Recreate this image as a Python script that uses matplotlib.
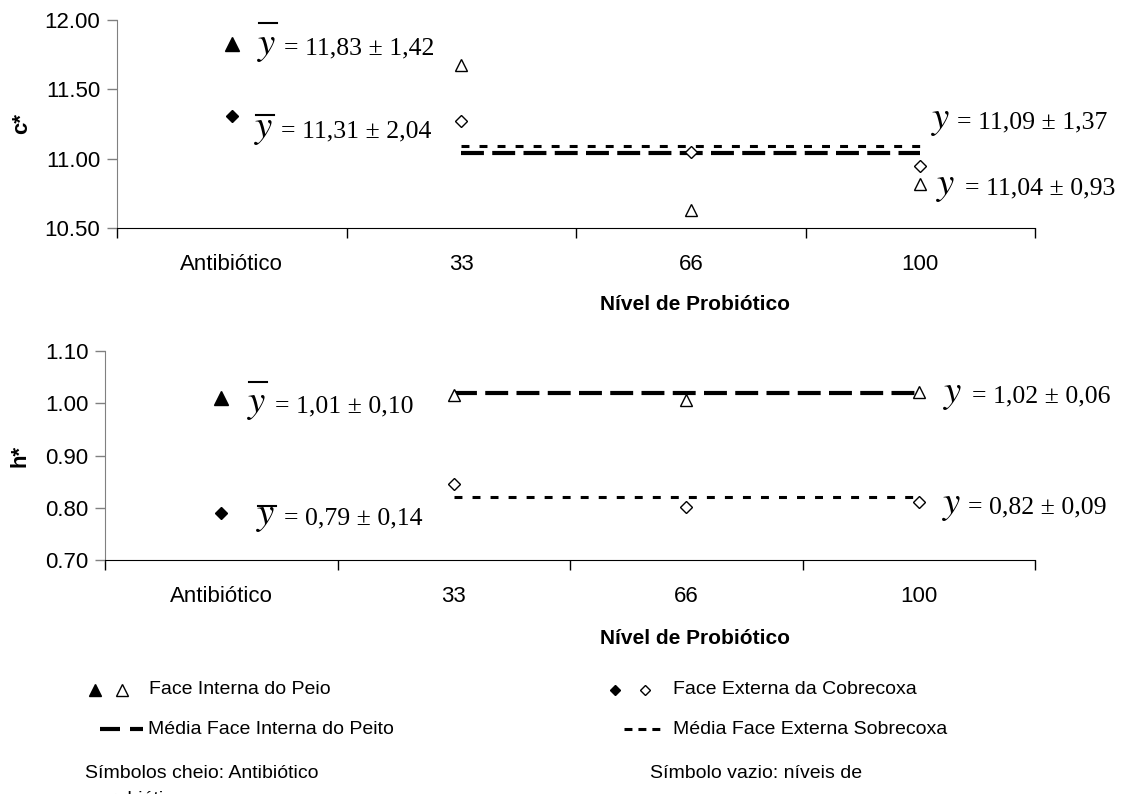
import numpy as np
import matplotlib.pyplot as plt
from matplotlib.lines import Line2D
from matplotlib.ticker import FormatStrFormatter

plt.rcParams['font.family'] = 'Liberation Sans'
plt.rcParams['mathtext.fontset'] = 'stix'

# dados
categorias = ['Antibiótico', '33', '66', '100']

# c*  (face interna do peito, face externa da sobrecoxa)
c_antibiotico = [11.83, 11.31]
c_interna = [11.675, 10.63, 10.82]
c_externa = [11.27, 11.05, 10.95]
c_medias = [11.04, 11.09]

# h*
h_antibiotico = [1.01, 0.79]
h_interna = [1.016, 1.006, 1.022]
h_externa = [0.845, 0.801, 0.811]
h_medias = [1.02, 0.82]

# equacoes: (centro do y, inicio do texto, linha de base, barra, texto) em pixels
eq_c = [
    (267, 284, 54, 23, '= 11,83 ± 1,42'),
    (264, 281, 137, 115, '= 11,31 ± 2,04'),
    (941, 957, 128, None, '= 11,09 ± 1,37'),
    (946, 965, 194, None, '= 11,04 ± 0,93'),
]
eq_h = [
    (257, 275, 412, 382, '= 1,01 ± 0,10'),
    (266, 284, 524, 506, '= 0,79 ± 0,14'),
    (953, 972, 402, None, '= 1,02 ± 0,06'),
    (952, 968, 513, None, '= 0,82 ± 0,09'),
]

W, H = 1144, 794
fig = plt.figure(figsize=(W / 100, H / 100), dpi=100)


def fx(x):
    return x / W


def fy(y):
    return 1 - y / H


ax1 = fig.add_axes([fx(117), fy(228), fx(1035) - fx(117), fy(20) - fy(228)])
ax2 = fig.add_axes([fx(105), fy(560), fx(1035) - fx(105), fy(351) - fy(560)])


def painel(ax, antib, interna, externa, medias, ylim, ystep):
    x = np.arange(len(categorias))
    ax.plot(x[0], antib[0], '^', ms=9.5, color='black', zorder=3)
    ax.plot(x[0], antib[1], 'D', ms=6.5, color='black', zorder=3)
    ax.plot(x[1:], interna, '^', ms=8, mfc='white', mec='black', mew=1,
            ls='none', zorder=3)
    ax.plot(x[1:], externa, 'D', ms=6, mfc='white', mec='black', mew=1,
            ls='none', zorder=3)
    ax.plot([x[1], x[-1]], [medias[0]] * 2, color='black', lw=3,
            ls=(0, (5.5, 2)), zorder=2)
    ax.plot([x[1], x[-1]], [medias[1]] * 2, color='black', lw=2.2,
            ls=(0, (2.6, 3.3)), zorder=2)

    ax.set_xlim(-0.5, len(categorias) - 0.5)
    ax.set_ylim(*ylim)
    ax.set_yticks(np.arange(ylim[0], ylim[1] + ystep / 2, ystep))
    ax.yaxis.set_major_formatter(FormatStrFormatter('%.2f'))
    ax.set_xticks(np.arange(len(categorias) + 1) - 0.5)
    ax.set_xticklabels([])
    ax.set_xticks(x, categorias, minor=True)
    ax.tick_params(axis='x', which='minor', length=0, pad=19, labelsize=16)
    ax.tick_params(axis='x', which='major', length=7, width=1, color='black')
    ax.tick_params(axis='y', length=7, width=1, color='#808080',
                   labelsize=16, pad=5)
    ax.spines['top'].set_visible(False)
    ax.spines['right'].set_visible(False)
    ax.spines['left'].set_color('#808080')
    ax.spines['bottom'].set_color('black')
    ax.set_xlabel('Nível de Probiótico', fontsize=15, fontweight='bold',
                  va='center')


painel(ax1, c_antibiotico, c_interna, c_externa, c_medias, (10.5, 12.0), 0.5)
painel(ax2, h_antibiotico, h_interna, h_externa, h_medias, (0.7, 1.1), 0.1)
ax1.xaxis.set_label_coords((695 - 117) / 918, (228 - 304) / 208)
ax2.xaxis.set_label_coords((695 - 105) / 930, (560 - 638) / 209)

fig.text(fx(22), fy(124), 'c*', rotation=90, ha='center', va='center',
         fontsize=16, fontweight='bold')
fig.text(fx(20), fy(456), 'h*', rotation=90, ha='center', va='center',
         fontsize=16, fontweight='bold')

for xc, xe, base, barra, txt in eq_c + eq_h:
    fig.text(fx(xc), fy(base), r'$y$', fontsize=28, ha='center', va='baseline')
    fig.text(fx(xe), fy(base), txt, fontsize=18.5, family='Liberation Serif',
             ha='left', va='baseline')
    if barra is not None:
        fig.add_artist(Line2D([fx(xc - 8), fx(xc + 10)], [fy(barra)] * 2,
                              color='black', lw=1.5, transform=fig.transFigure))

# legenda
leg = dict(fontsize=14, va='center')
fig.add_artist(Line2D([fx(95)], [fy(690)], marker='^', ms=8, color='black',
                      transform=fig.transFigure))
fig.add_artist(Line2D([fx(122)], [fy(690)], marker='^', ms=8, mfc='white',
                      mec='black', mew=1, transform=fig.transFigure))
fig.text(fx(149), fy(690), 'Face Interna do Peio', **leg)
fig.add_artist(Line2D([fx(615)], [fy(690)], marker='D', ms=5.5, color='black',
                      transform=fig.transFigure))
fig.add_artist(Line2D([fx(645)], [fy(690)], marker='D', ms=5.5, mfc='white',
                      mec='black', mew=1, transform=fig.transFigure))
fig.text(fx(673), fy(690), 'Face Externa da Cobrecoxa', **leg)

fig.add_artist(Line2D([fx(100), fx(143)], [fy(729)] * 2, color='black', lw=3,
                      ls=(0, (4.8, 2.4)), transform=fig.transFigure))
fig.text(fx(148), fy(729), 'Média Face Interna do Peito', **leg)
fig.add_artist(Line2D([fx(624), fx(660)], [fy(729)] * 2, color='black', lw=2.2,
                      ls=(0, (2.6, 1.96)), transform=fig.transFigure))
fig.text(fx(673), fy(729), 'Média Face Externa Sobrecoxa', **leg)

fig.text(fx(85), fy(773), 'Símbolos cheio: Antibiótico', **leg)
fig.text(fx(650), fy(773), 'Símbolo vazio: níveis de', **leg)
fig.text(fx(100), fy(800), 'probiótico', **leg)

plt.savefig('out.png', dpi=100)
